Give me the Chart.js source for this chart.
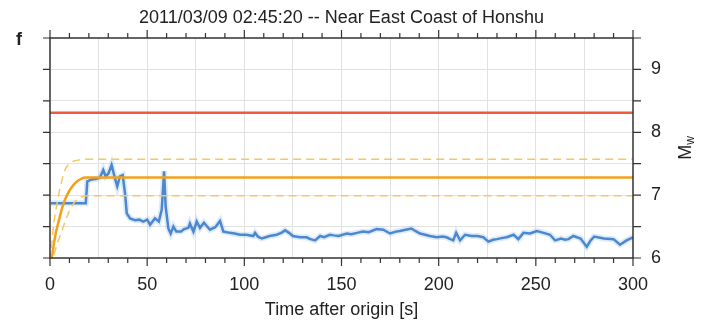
<!DOCTYPE html>
<html lang="en">
<head>
<meta charset="UTF-8">
<title>2011/03/09 02:45:20 -- Near East Coast of Honshu</title>
<script src="https://cdn.jsdelivr.net/npm/chart.js@4.4.7/dist/chart.umd.min.js"></script>
<style>
*{margin:0;padding:0}
body{background:#fff;width:710px;height:321px;overflow:hidden}
</style>
</head>
<body>
<canvas id="c" width="710" height="321"></canvas>
<script>
const TITLE = "2011/03/09 02:45:20 -- Near East Coast of Honshu";
const PANEL = "f";
const X_TITLE = "Time after origin [s]";

// tick labels
const xLabels = [0, 50, 100, 150, 200, 250, 300];
const yLabels = [6, 7, 8, 9];

// reference magnitude (red)
const refT = [0, 300];
const refM = [8.31, 8.31];

// model magnitude and bounds (orange)
const fitT = [0, 1, 2, 3, 4, 5, 6, 7, 8, 10, 12, 14, 16, 18, 300];
const fitM = [5.8, 6.02, 6.22, 6.4, 6.53, 6.65, 6.77, 6.87, 6.95, 7.07, 7.16, 7.22, 7.26, 7.28, 7.28];
const upT = [0, 2, 4, 6, 8, 10, 12, 15, 18, 300];
const upM = [5.95, 6.55, 6.93, 7.22, 7.42, 7.5, 7.54, 7.56, 7.57, 7.57];
const loT = [0, 2, 4, 6, 8, 10, 12, 14, 17, 20, 300];
const loM = [5.85, 6.05, 6.25, 6.42, 6.6, 6.75, 6.86, 6.93, 6.98, 6.99, 6.99];

// estimated magnitude over time (blue)
const estT = [0.5, 18.4, 19.2, 21.4, 24, 25.7, 27.4, 28.6, 30, 31.7, 33.4, 34.6, 36, 37.4, 38.6, 39.5, 41.2, 43.7, 46, 48,
  50, 51.5, 54, 56, 57.5, 58.7, 59.5, 60.9, 62.1, 63.5, 65, 67.4, 69, 71.2, 72, 73.8, 75.5, 77.2, 79.2, 82.3,
  85, 87.5, 89.2, 92.6, 95, 97.8, 101, 104.6, 105.5, 107, 109, 111, 113, 116.6, 119, 121, 123, 125, 128.6, 132,
  134, 136.4, 139, 141, 144, 146, 148.5, 152.7, 155, 158, 161, 164, 168, 171.5, 175, 178, 180, 183, 186, 188,
  190.4, 193, 195.5, 199, 202, 204, 206, 207.5, 209, 211, 213.6, 217, 220, 223, 225.6, 228, 230, 233, 235, 238.6,
  241, 243.6, 247, 250.5, 254, 257.3, 259.9, 263, 265, 266.8, 269.3, 273, 276.2, 278, 280, 285, 290, 293.3, 296.7, 300];
const estM = [6.87, 6.87, 7.22, 7.25, 7.26, 7.28, 7.40, 7.30, 7.34, 7.48, 7.27, 7.14, 7.30, 7.32, 7.03, 6.71, 6.63, 6.60, 6.61, 6.58,
  6.61, 6.53, 6.63, 6.58, 6.77, 7.38, 6.82, 6.47, 6.39, 6.50, 6.42, 6.42, 6.46, 6.48, 6.55, 6.42, 6.58, 6.48, 6.56, 6.45,
  6.49, 6.59, 6.42, 6.40, 6.39, 6.37, 6.37, 6.35, 6.40, 6.34, 6.31, 6.33, 6.35, 6.37, 6.40, 6.44, 6.40, 6.35, 6.33, 6.33,
  6.30, 6.28, 6.35, 6.33, 6.37, 6.36, 6.35, 6.39, 6.38, 6.40, 6.42, 6.41, 6.46, 6.45, 6.39, 6.42, 6.43, 6.45, 6.47, 6.43,
  6.39, 6.37, 6.35, 6.33, 6.34, 6.33, 6.30, 6.28, 6.40, 6.28, 6.37, 6.35, 6.35, 6.33, 6.26, 6.29, 6.30, 6.32, 6.33, 6.37,
  6.30, 6.40, 6.39, 6.43, 6.40, 6.37, 6.28, 6.31, 6.29, 6.30, 6.35, 6.31, 6.18, 6.27, 6.34, 6.31, 6.30, 6.21, 6.28, 6.33];

const pts = (ts, ms) => ts.map((t, i) => ({x: t, y: ms[i]}));
const FONT = "'Liberation Sans', Arial, sans-serif";
const INK = "#222";

const frame = {
  id: "frame",
  afterDraw(chart) {
    const {ctx, chartArea: a, scales: {x, y}} = chart;
    ctx.save();
    ctx.strokeStyle = "#333";
    ctx.lineWidth = 1.5;
    ctx.strokeRect(a.left, a.top, a.right - a.left, a.bottom - a.top);
    ctx.lineWidth = 1.2;
    ctx.beginPath();
    for (let t = 0; t <= 300; t += 10) {
      const px = x.getPixelForValue(t), len = t % 50 === 0 ? 8 : 5;
      ctx.moveTo(px, a.bottom); ctx.lineTo(px, a.bottom + len);
      ctx.moveTo(px, a.top); ctx.lineTo(px, a.top - len);
    }
    for (let m = 6; m <= 9.5; m += 0.5) {
      const py = y.getPixelForValue(m);
      ctx.moveTo(a.left, py); ctx.lineTo(a.left - 7, py);
      ctx.moveTo(a.right, py); ctx.lineTo(a.right + 8, py);
    }
    ctx.stroke();

    ctx.fillStyle = INK;
    ctx.textBaseline = "middle";
    ctx.textAlign = "center";
    ctx.font = "18px " + FONT;
    ctx.fillText(TITLE, (a.left + a.right) / 2, 18);
    ctx.font = "bold 18px " + FONT;
    ctx.textAlign = "left";
    ctx.fillText(PANEL, 16, 40);

    // M_w, rotated
    ctx.translate(686, (a.top + a.bottom) / 2);
    ctx.rotate(-Math.PI / 2);
    ctx.font = "18px " + FONT;
    const mw = ctx.measureText("M").width;
    ctx.font = "12px " + FONT;
    const ww = ctx.measureText("w").width;
    const x0 = -(mw + ww) / 2;
    ctx.font = "18px " + FONT;
    ctx.fillText("M", x0, 0);
    ctx.font = "12px " + FONT;
    ctx.fillText("w", x0 + mw, 5);
    ctx.restore();
  }
};

new Chart(document.getElementById("c"), {
  type: "line",
  data: {
    datasets: [
      {data: pts(refT, refM), borderColor: "#ef5a3c", borderWidth: 2.5},
      {data: pts(upT, upM), borderColor: "#f6c760", borderWidth: 1.5, borderDash: [8, 5], cubicInterpolationMode: "monotone"},
      {data: pts(loT, loM), borderColor: "#f6c760", borderWidth: 1.5, borderDash: [8, 5], cubicInterpolationMode: "monotone"},
      {data: pts(fitT, fitM), borderColor: "#f2a11c", borderWidth: 2.5, cubicInterpolationMode: "monotone"},
      {data: pts(estT, estM), borderColor: "rgba(150,190,235,0.3)", borderWidth: 6},
      {data: pts(estT, estM), borderColor: "#2b72c3", borderWidth: 2.5}
    ]
  },
  options: {
    responsive: false,
    animation: false,
    events: [],
    layout: {padding: {left: 50, top: 38}},
    elements: {point: {radius: 0}, line: {tension: 0, fill: false}},
    plugins: {legend: {display: false}, tooltip: {enabled: false}},
    scales: {
      x: {
        type: "linear", min: 0, max: 300,
        afterFit: s => { s.height = 63; },
        border: {display: false},
        grid: {
          drawTicks: false,
          color: c => (c.tick.value > 0 && c.tick.value < 300) ? "#e2e2e2" : "transparent"
        },
        ticks: {
          stepSize: 25, autoSkip: false, maxRotation: 0, padding: 16,
          color: INK, font: {family: FONT, size: 18},
          callback: v => xLabels.includes(v) ? String(v) : ""
        },
        title: {display: true, text: X_TITLE, color: INK, font: {family: FONT, size: 18}, padding: {top: 0, bottom: 0}}
      },
      y: {
        position: "right", min: 6, max: 9.5,
        afterFit: s => { s.width = 77; },
        border: {display: false},
        grid: {
          drawTicks: false,
          color: c => (c.tick.value > 6 && c.tick.value < 9.5) ? "#e2e2e2" : "transparent"
        },
        ticks: {
          stepSize: 0.5, autoSkip: false, padding: 18,
          color: INK, font: {family: FONT, size: 18},
          callback: v => yLabels.includes(v) ? String(v) : ""
        }
      }
    }
  },
  plugins: [frame]
});
</script>
</body>
</html>
